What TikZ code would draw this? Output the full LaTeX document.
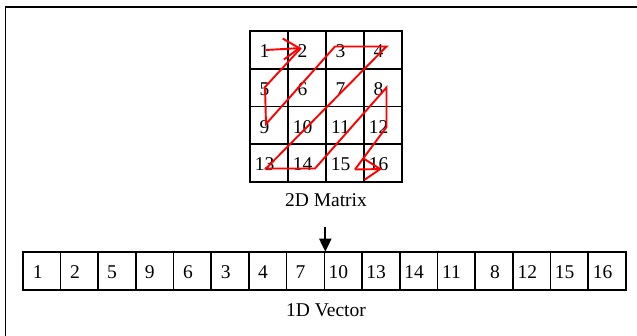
\documentclass[tikz,border=0pt]{standalone}
\usepackage{fontspec}
\setmainfont{Liberation Serif}
\usetikzlibrary{arrows.meta}
\begin{document}
\begin{tikzpicture}[x=1pt,y=-1pt,
  cellbox/.style={draw,line width=1.8pt,minimum width=38pt,minimum height=37.75pt,inner sep=0pt,outer sep=0pt,anchor=north west},
  vcell/.style={draw,line width=1.6pt,minimum width=37.7pt,minimum height=38.3pt,inner sep=0pt,outer sep=0pt,anchor=north west},
  numtxt/.style={font=\fontsize{19.5}{21}\selectfont,inner sep=0pt,anchor=base},
  labtxt/.style={font=\fontsize{19.5}{21}\selectfont,inner sep=0pt,anchor=base},
  zig/.style={draw=red,line width=1.9pt,line join=miter},
  zigarrow/.style={zig,-{Straight Barb[length=16pt,width=21pt,line width=1.9pt]}},
  downarrow/.style={line width=2pt,-{Triangle[length=13pt,width=12pt]}}]
\useasboundingbox (0,0) rectangle (637,335);
\clip (0,0) rectangle (637,335);
\draw[line width=1.5pt] (5.5,7) rectangle (660,360);
% matrix
\foreach \n/\c/\r in {1/0/0,2/1/0,3/2/0,4/3/0,5/0/1,6/1/1,7/2/1,8/3/1,9/0/2,10/1/2,11/2/2,12/3/2,13/0/3,14/1/3,15/2/3,16/3/3}{
  \node[cellbox] (m\n) at ({250+38*\c},{31+37.75*\r}) {};
  \node[numtxt] (t\n) at ({250+38*\c+14.5},{31+37.75*\r+26.5}) {\n};
}
\node[labtxt] (lab2d) at (326,206) {2D Matrix};
% vector
\foreach \n/\i/\dx in {1/0/15,2/1/14.5,5/2/14,9/3/14,6/4/14.5,3/5/14.5,4/6/14,7/7/14,10/8/14,13/9/14,14/10/14.5,11/11/14,8/12/20,12/13/14.5,15/14/14,16/15/14.5}{
  \node[vcell] (v\i) at ({22.7+37.7*\i},251.7) {};
  \node[numtxt] (u\i) at ({22.7+37.7*\i+\dx},278.7) {\n};
}
\node[labtxt] (lab1d) at (326,316.5) {1D Vector};
\coordinate (astart) at (325.3,227);
\draw[downarrow] (astart) -- (astart |- v8.north east) ;
% zig-zag path
\coordinate (p1) at (266,50);
\coordinate (p2) at (301,48);
\coordinate (p5) at (265,87);
\coordinate (p9) at (266,124);
\coordinate (p3) at (335,46.5);
\coordinate (p4) at (386.5,46.5);
\coordinate (p13) at (266,168.5);
\coordinate (p14) at (315,168.5);
\coordinate (p8) at (386.5,87.5);
\coordinate (p12) at (386.5,127);
\coordinate (p15) at (355,169.5);
\coordinate (p16) at (382,169);
\draw[zigarrow] (p1) -- (p2);
\draw[zig] (p2) -- (p5) -- (p9) -- (p3) -- (p4) -- (p13) -- (p14) -- (p8) -- (p12) -- (p15);
\draw[zigarrow] (p15) -- (p16);
\end{tikzpicture}
\end{document}
